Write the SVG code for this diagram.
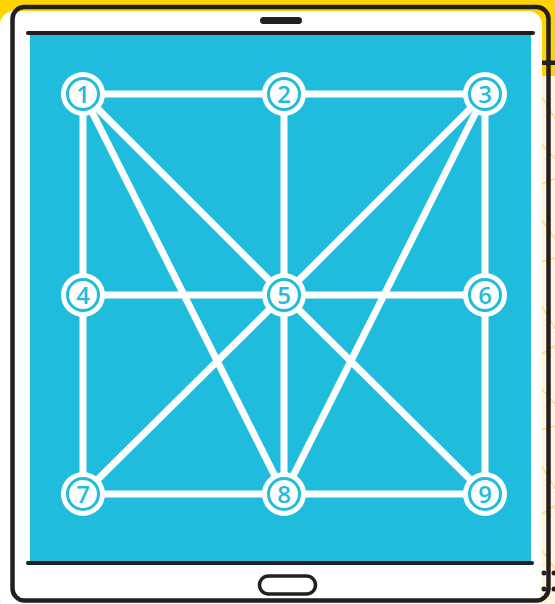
<svg xmlns="http://www.w3.org/2000/svg" width="555" height="604" viewBox="0 0 555 604">
<style>
.edge{stroke:#ffffff;stroke-width:7;stroke-linecap:round;fill:none}
.outer{fill:#ffffff}
.ring{fill:none;stroke:#1fbcdd;stroke-width:3}
.num{font-family:"Open Sans","DejaVu Sans",sans-serif;font-size:24px;font-weight:600;fill:#1fbcdd;text-anchor:middle}
.ray{stroke:#f7d54a;stroke-width:1.3;opacity:.75}
</style>
<defs>
<clipPath id="strip"><rect x="541" y="76" width="14" height="528"/></clipPath>
</defs>
<g id="background">
<rect x="0" y="0" width="555" height="604" fill="#fef6dc"/>
<rect x="0" y="0" width="555" height="76" fill="#fdd400"/>
<g clip-path="url(#strip)">
<line class="ray" x1="538" y1="90" x2="556" y2="120"/>
<line class="ray" x1="538" y1="140" x2="556" y2="160"/>
<line class="ray" x1="540" y1="185" x2="556" y2="178"/>
<line class="ray" x1="538" y1="215" x2="556" y2="240"/>
<line class="ray" x1="540" y1="262" x2="556" y2="258"/>
<line class="ray" x1="538" y1="300" x2="556" y2="330"/>
<line class="ray" x1="540" y1="355" x2="556" y2="345"/>
<line class="ray" x1="538" y1="385" x2="556" y2="405"/>
<line class="ray" x1="540" y1="430" x2="556" y2="426"/>
<line class="ray" x1="538" y1="460" x2="556" y2="490"/>
<line class="ray" x1="540" y1="515" x2="556" y2="505"/>
<line class="ray" x1="538" y1="545" x2="556" y2="570"/>
</g>
<rect x="542" y="60.5" width="13" height="4.5" fill="#231f20"/>
</g>
<g id="tablet">
<rect x="0" y="11" width="542" height="600" rx="14" fill="#ffffff"/>
<rect x="12.5" y="7" width="536" height="593.5" rx="12" fill="none" stroke="#231f20" stroke-width="4.5"/>
<rect x="30" y="33" width="501" height="530" fill="#1fbcdd"/>
<line x1="28" y1="33" x2="533" y2="33" stroke="#231f20" stroke-width="4" stroke-linecap="round"/>
<line x1="28" y1="563" x2="532" y2="563" stroke="#231f20" stroke-width="4" stroke-linecap="round"/>
<rect x="260" y="17" width="42" height="7" rx="3.5" fill="#231f20"/>
<rect x="259.5" y="576" width="56" height="18" rx="9" fill="#ffffff" stroke="#231f20" stroke-width="3.5"/>
<circle cx="544" cy="573" r="2.5" fill="#231f20"/>
<circle cx="554" cy="573" r="2.5" fill="#231f20"/>
<circle cx="544" cy="589" r="2.5" fill="#231f20"/>
<circle cx="554" cy="589" r="2.5" fill="#231f20"/>
</g>
<g id="connectors">
<line class="edge" x1="83" y1="94" x2="284" y2="94"/>
<line class="edge" x1="284" y1="94" x2="485" y2="94"/>
<line class="edge" x1="83" y1="295" x2="284" y2="295"/>
<line class="edge" x1="284" y1="295" x2="485" y2="295"/>
<line class="edge" x1="83" y1="494" x2="284" y2="494"/>
<line class="edge" x1="284" y1="494" x2="485" y2="494"/>
<line class="edge" x1="83" y1="94" x2="83" y2="295"/>
<line class="edge" x1="83" y1="295" x2="83" y2="494"/>
<line class="edge" x1="284" y1="94" x2="284" y2="295"/>
<line class="edge" x1="284" y1="295" x2="284" y2="494"/>
<line class="edge" x1="485" y1="94" x2="485" y2="295"/>
<line class="edge" x1="485" y1="295" x2="485" y2="494"/>
<line class="edge" x1="83" y1="94" x2="284" y2="295"/>
<line class="edge" x1="284" y1="295" x2="485" y2="494"/>
<line class="edge" x1="485" y1="94" x2="284" y2="295"/>
<line class="edge" x1="284" y1="295" x2="83" y2="494"/>
<line class="edge" x1="83" y1="94" x2="284" y2="494"/>
<line class="edge" x1="485" y1="94" x2="284" y2="494"/>
</g>
<g id="n1"><circle class="outer" cx="83" cy="94" r="22"/><circle class="ring" cx="83" cy="94" r="15.5"/><text class="num" x="83" y="102.5">1</text></g>
<g id="n2"><circle class="outer" cx="284" cy="94" r="22"/><circle class="ring" cx="284" cy="94" r="15.5"/><text class="num" x="284" y="102.5">2</text></g>
<g id="n3"><circle class="outer" cx="485" cy="94" r="22"/><circle class="ring" cx="485" cy="94" r="15.5"/><text class="num" x="485" y="102.5">3</text></g>
<g id="n4"><circle class="outer" cx="83" cy="295" r="22"/><circle class="ring" cx="83" cy="295" r="15.5"/><text class="num" x="83" y="303.5">4</text></g>
<g id="n5"><circle class="outer" cx="284" cy="295" r="22"/><circle class="ring" cx="284" cy="295" r="15.5"/><text class="num" x="284" y="303.5">5</text></g>
<g id="n6"><circle class="outer" cx="485" cy="295" r="22"/><circle class="ring" cx="485" cy="295" r="15.5"/><text class="num" x="485" y="303.5">6</text></g>
<g id="n7"><circle class="outer" cx="83" cy="494" r="22"/><circle class="ring" cx="83" cy="494" r="15.5"/><text class="num" x="83" y="502.5">7</text></g>
<g id="n8"><circle class="outer" cx="284" cy="494" r="22"/><circle class="ring" cx="284" cy="494" r="15.5"/><text class="num" x="284" y="502.5">8</text></g>
<g id="n9"><circle class="outer" cx="485" cy="494" r="22"/><circle class="ring" cx="485" cy="494" r="15.5"/><text class="num" x="485" y="502.5">9</text></g>
</svg>
